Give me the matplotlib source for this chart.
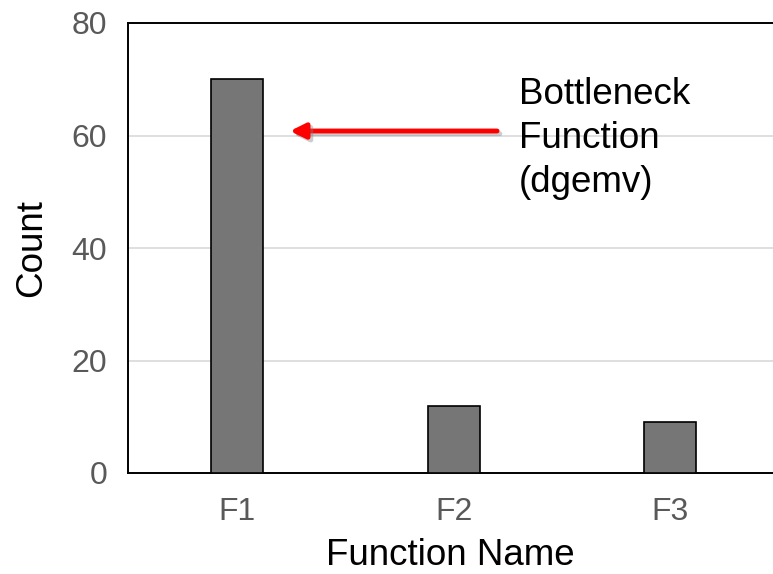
import matplotlib
matplotlib.use("Agg")
import matplotlib.pyplot as plt
import matplotlib.patheffects as pe

categories = ["F1", "F2", "F3"]
counts = [70, 12, 9]
yticks = [0, 20, 40, 60, 80]
annot_text = "Bottleneck\nFunction\n(dgemv)"
arrow_tip = (0.245, 60.8)
arrow_tail = (1.20, 60.8)
text_pos = (1.300, 70.4)

plt.rcParams['font.family'] = ['Liberation Sans', 'DejaVu Sans']

fig = plt.figure(figsize=(7.73, 5.74), dpi=100)
ax = fig.add_axes([128/773, 101/574, 645/773, 450/574])

x = list(range(len(categories)))
ax.bar(x, counts, width=0.24, color="#767676", edgecolor="black", linewidth=1.2, zorder=3)

ax.set_xlim(-0.503, 2.473)
ax.set_ylim(0, 80)
ax.set_yticks(yticks)
ax.set_xticks(x)
ax.set_xticklabels(categories)
ax.yaxis.grid(True, color="#d9d9d9", linewidth=1.2, zorder=0)
ax.set_axisbelow(True)

for s in ["left", "top", "bottom"]:
    ax.spines[s].set_color("black")
    ax.spines[s].set_linewidth(1.4)
ax.spines["right"].set_visible(False)

ax.tick_params(axis="both", length=0, labelsize=23, labelcolor="#595959")
ax.tick_params(axis="y", pad=15)
ax.tick_params(axis="x", pad=17)

ax.set_ylabel("Count", fontsize=26.5, color="black", labelpad=16)
ax.set_xlabel("Function Name", fontsize=26.5, color="black", labelpad=8)

ax.annotate("", xy=arrow_tip, xytext=arrow_tail,
            arrowprops=dict(arrowstyle="-|>,head_length=0.9,head_width=0.45",
                            color="#ff0000", lw=3.5, shrinkA=0, shrinkB=0,
                            path_effects=[pe.SimpleLineShadow(offset=(2, -2), shadow_color="gray", alpha=0.4),
                                          pe.Normal()]),
            zorder=5)

ax.text(text_pos[0], text_pos[1], annot_text, fontsize=26.5, color="black",
        ha="left", va="top", linespacing=1.33, zorder=6)

fig.savefig("out.png", dpi=100)
